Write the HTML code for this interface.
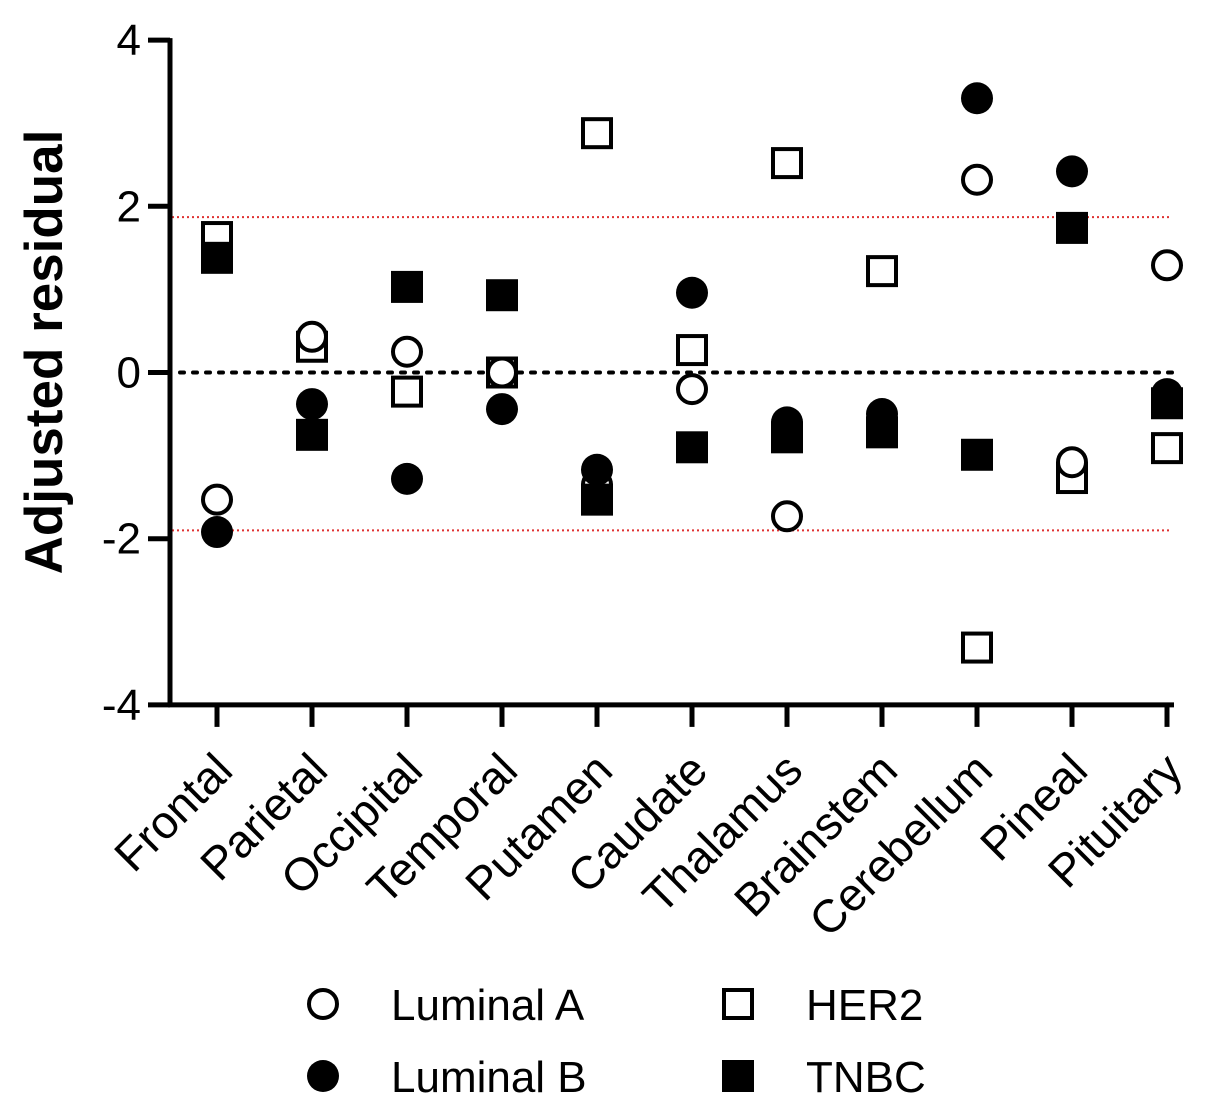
<!DOCTYPE html>
<html><head><meta charset="utf-8"><style>
body{margin:0;background:#fff}
svg{display:block;font-family:"Liberation Sans",sans-serif}
</style></head><body>
<svg id="c" width="1205" height="1110"></svg>
<script>
const categories=["Frontal","Parietal","Occipital","Temporal","Putamen","Caudate","Thalamus","Brainstem","Cerebellum","Pineal","Pituitary"];
const lumA=[-1.53,0.43,0.25,0,-1.35,-0.2,-1.73,-0.6,2.32,-1.08,1.29];
const lumB=[-1.92,-0.38,-1.28,-0.44,-1.17,0.96,-0.6,-0.5,3.3,2.42,-0.26];
const her2=[1.63,0.31,-0.23,0,2.88,0.27,2.52,1.22,-3.31,-1.27,-0.91];
const tnbc=[1.38,-0.75,1.03,0.93,-1.53,-0.9,-0.78,-0.72,-0.99,1.74,-0.37];
const yTicks=[4,2,0,-2,-4];
const refLines=[1.87,-1.9];
const NS="http://www.w3.org/2000/svg";
const svg=document.getElementById('c');
function y(v){return 372.5-v*83.1;}
function x(i){return 217+i*95;}
function mk(t,a,p){const e=document.createElementNS(NS,t);for(const k in a)e.setAttribute(k,a[k]);(p||svg).appendChild(e);return e;}
refLines.forEach(v=>{const l=mk('line',{x1:172,x2:1172,y1:y(v),y2:y(v),stroke:'#e03030','stroke-width':2,'stroke-dasharray':'2 3'});

});
const z=mk('line',{x1:180,x2:1172,y1:y(0),y2:y(0),stroke:'#000','stroke-width':4,'stroke-dasharray':'4 9','stroke-linecap':'round'});


const ya=mk('line',{x1:170,x2:170,y1:y(4)-2,y2:y(-4)+2,stroke:'#000','stroke-width':5});


const xa=mk('line',{x1:168,x2:1174,y1:y(-4),y2:y(-4),stroke:'#000','stroke-width':5});


yTicks.forEach(v=>{mk('line',{x1:148,x2:170,y1:y(v),y2:y(v),stroke:'#000','stroke-width':5});
const t=mk('text',{x:141,y:y(v)+15,'text-anchor':'end','font-size':44});t.textContent=v;

});
const yt=mk('text',{x:0,y:0,transform:'translate(62,352) rotate(-90)','text-anchor':'middle','font-size':53,'font-weight':'bold'});
yt.textContent='Adjusted residual';


categories.forEach((c,i)=>{mk('line',{x1:x(i),x2:x(i),y1:y(-4),y2:y(-4)+22,stroke:'#000','stroke-width':5});
const t=mk('text',{x:0,y:0,transform:`translate(${x(i)+18},${y(-4)+68}) rotate(-45)`,'text-anchor':'end','font-size':46});t.textContent=c;

});
function circ(cx,cy,filled,name){const e=mk('circle',{cx,cy,r:filled?16:14,fill:filled?'#000':'#fff',stroke:filled?'none':'#000','stroke-width':4});

}
function sq(cx,cy,filled,name){const e=filled?mk('rect',{x:cx-16,y:cy-16,width:32,height:32,fill:'#000'}):mk('rect',{x:cx-14,y:cy-14,width:28,height:28,fill:'#fff',stroke:'#000','stroke-width':4});

}
her2.forEach((v,i)=>sq(x(i),y(v),false,'point-her2'));
lumA.forEach((v,i)=>circ(x(i),y(v),false,'point-luminal-a'));
tnbc.forEach((v,i)=>sq(x(i),y(v),true,'point-tnbc'));
lumB.forEach((v,i)=>circ(x(i),y(v),true,'point-luminal-b'));
const leg=[["Luminal A",0,323,1004],["Luminal B",1,323,1076],["HER2",2,738,1004],["TNBC",3,738,1076]];
leg.forEach(([n,k,lx,ly])=>{
if(k<2)circ(lx,ly,k==1,'legend-marker');else sq(lx,ly,k==3,'legend-marker');
const t=mk('text',{x:lx+68,y:ly+16,'font-size':44});t.textContent=n;

});
</script>
</body></html>
